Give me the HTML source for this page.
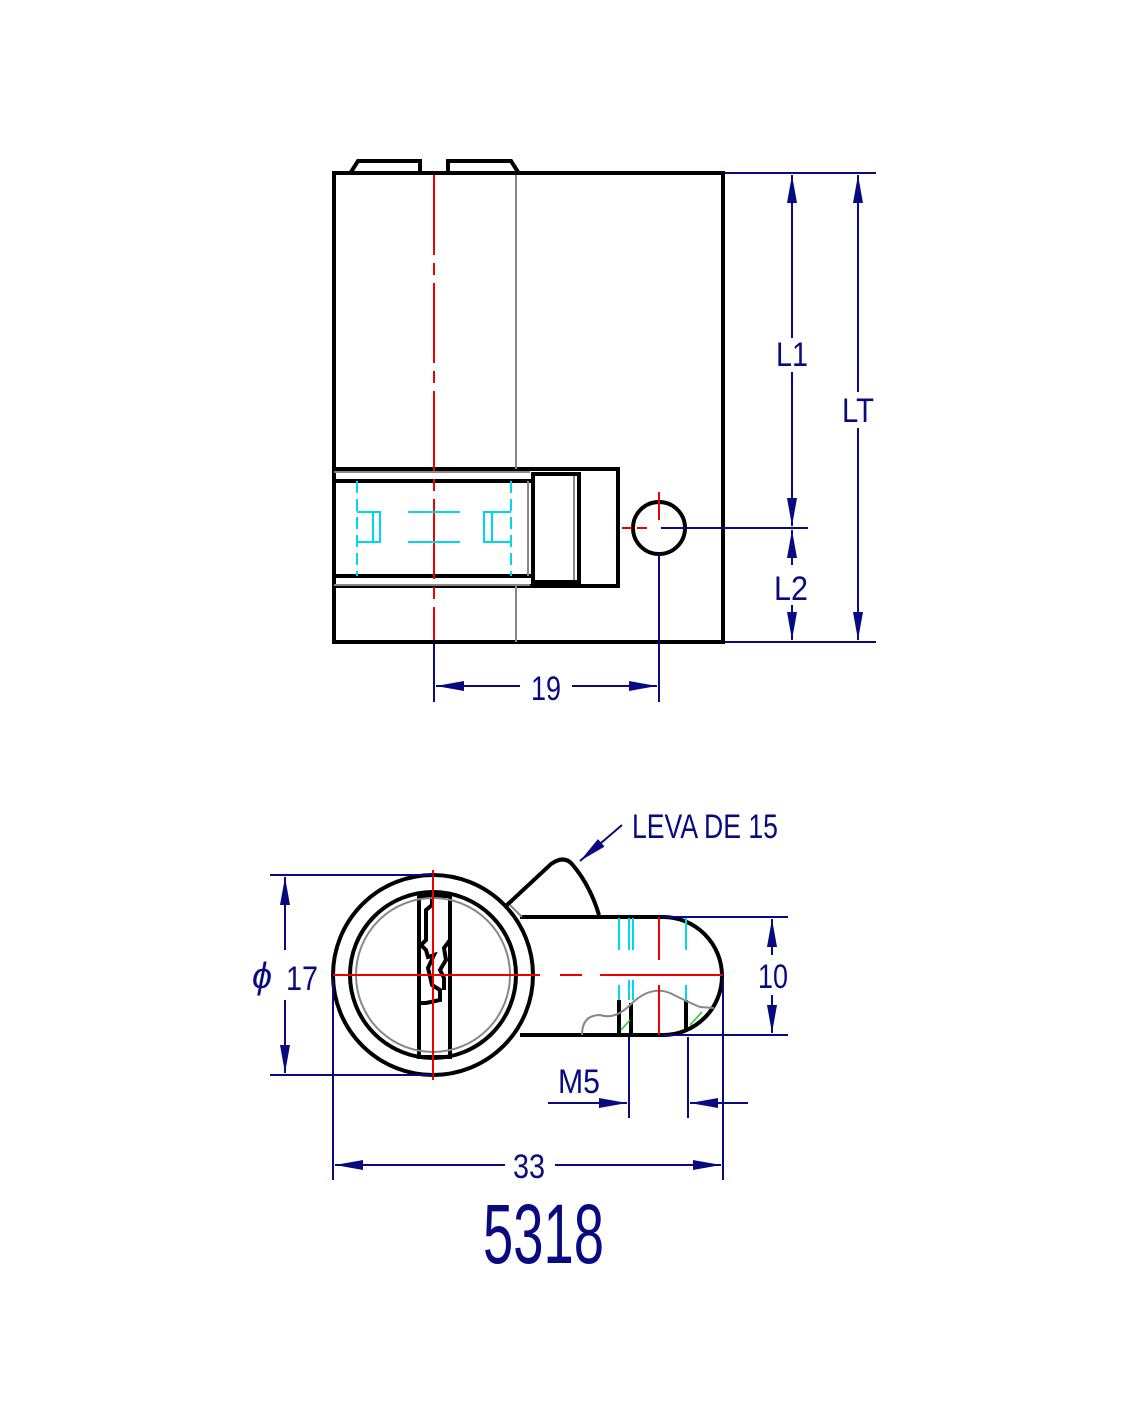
<!DOCTYPE html>
<html><head><meta charset="utf-8"><style>html,body{margin:0;padding:0;background:#fff}svg{display:block}</style></head>
<body>
<svg width="1134" height="1416" viewBox="0 0 1134 1416" xmlns="http://www.w3.org/2000/svg" font-family="Liberation Sans, sans-serif">
<defs>
<marker id="a" markerWidth="30" markerHeight="12" refX="28" refY="6" orient="auto" markerUnits="userSpaceOnUse"><path d="M0,1 L28,6 L0,11 Z" fill="#0a0a80"/></marker>
</defs>
<rect width="1134" height="1416" fill="#fff"/>
<!-- TOP VIEW -->
<g fill="none" stroke="#000" stroke-width="4">
<path d="M351,172 L358,161 L420,161 L420,172"/>
<path d="M448,172 L448,161 L511,161 L518,172"/>
<rect x="334" y="173" width="389" height="469"/>
<rect x="334" y="469" width="284" height="117" fill="#fff"/>
<line x1="334" y1="481" x2="533" y2="481"/>
<line x1="334" y1="576" x2="533" y2="576"/>
<rect x="533" y="474" width="46" height="108"/>
<circle cx="659" cy="528" r="26"/>
</g>
<g stroke="#888" stroke-width="2" fill="none">
<line x1="516" y1="175" x2="516" y2="469"/>
<line x1="516" y1="586" x2="516" y2="642"/>
<line x1="334" y1="472" x2="530" y2="472"/>
<line x1="334" y1="585" x2="530" y2="585"/>
<line x1="528" y1="481" x2="528" y2="576"/>
<line x1="574" y1="476" x2="574" y2="580"/>
</g>
<g stroke="#e00" stroke-width="2" fill="none">
<line x1="434" y1="175" x2="434" y2="640" stroke-dasharray="80,8,12,8"/>
<line x1="659" y1="492" x2="659" y2="520"/>
<line x1="622" y1="528" x2="652" y2="528" stroke-dasharray="10,5"/>
</g>
<g stroke="#00d8e8" stroke-width="2" fill="none">
<path d="M357,481 V576" stroke-dasharray="12,6"/>
<path d="M511,481 V576" stroke-dasharray="12,6"/>
<path d="M357,512 H380 V542 H357 M373,512 V542"/>
<path d="M511,512 H484 V542 H511 M492,512 V542"/>
<line x1="408" y1="512" x2="460" y2="512"/>
<line x1="408" y1="542" x2="460" y2="542"/>
</g>
<!-- top dims -->
<g stroke="#0a0a80" stroke-width="2" fill="none">
<line x1="725" y1="173" x2="876" y2="173"/>
<line x1="725" y1="642" x2="876" y2="642"/>
<line x1="661" y1="528" x2="808" y2="528"/>
<line x1="792" y1="338" x2="792" y2="175" marker-end="url(#a)"/>
<line x1="792" y1="372" x2="792" y2="526" marker-end="url(#a)"/>
<line x1="792" y1="565" x2="792" y2="530" marker-end="url(#a)"/>
<line x1="792" y1="605" x2="792" y2="640" marker-end="url(#a)"/>
<line x1="858" y1="392" x2="858" y2="175" marker-end="url(#a)"/>
<line x1="858" y1="428" x2="858" y2="640" marker-end="url(#a)"/>
<line x1="434" y1="644" x2="434" y2="702"/>
<line x1="659" y1="554" x2="659" y2="702"/>
<line x1="520" y1="686" x2="436" y2="686" marker-end="url(#a)"/>
<line x1="572" y1="686" x2="657" y2="686" marker-end="url(#a)"/>
</g>
<g fill="#0a0a80" font-size="34">
<text x="776" y="366" textLength="32" lengthAdjust="spacingAndGlyphs">L1</text>
<text x="842" y="422" textLength="32" lengthAdjust="spacingAndGlyphs">LT</text>
<text x="774" y="600" textLength="34" lengthAdjust="spacingAndGlyphs">L2</text>
<text x="531" y="700" textLength="30" lengthAdjust="spacingAndGlyphs">19</text>
</g>
<!-- BOTTOM VIEW -->
<g fill="none" stroke="#000" stroke-width="4">
<path d="M507,905 L551,864 Q564,855 572,864 Q590,885 599,915" />
<path d="M520,917 L663,917 A59,59 0 0 1 663,1035 L520,1035"/>
<circle cx="433" cy="975" r="100" fill="#fff"/>
<circle cx="433" cy="975" r="83"/>
<path d="M419,896 L419,1057 L450,1057 L450,896 Z"/>
<path d="M419,896 L432,896 L432,905 L426,910 L426,940 L421,945 L426,950 L428,957 L434,955 L428,968 L432,985 L440,990 L440,1000 L426,1003 L419,1003"/>
<path d="M450,940 L444,948 L446,960 L440,970 L444,978 L444,990"/>
<line x1="619" y1="1000" x2="619" y2="1035"/>
<line x1="631" y1="1003" x2="631" y2="1035"/>
<line x1="686" y1="1000" x2="686" y2="1030"/>
</g>
<g fill="none" stroke="#888" stroke-width="2">
<circle cx="433" cy="975" r="77"/>
<path d="M510,905 L522,917"/>
<path d="M582,1035 Q582,1015 600,1015 Q615,1020 630,1005 Q650,985 670,993 Q690,1003 700,1007 L714,1008"/>
</g>
<g stroke="#e00" stroke-width="2" fill="none">
<line x1="433" y1="870" x2="433" y2="1080"/>
<line x1="333" y1="975" x2="540" y2="975"/>
<line x1="560" y1="975" x2="582" y2="975"/>
<line x1="600" y1="975" x2="723" y2="975"/>
<line x1="659" y1="917" x2="659" y2="960"/>
<line x1="659" y1="985" x2="659" y2="1035"/>
</g>
<g stroke="#00d8e8" stroke-width="2" fill="none">
<line x1="619" y1="918" x2="619" y2="950"/><line x1="629" y1="918" x2="629" y2="950"/><line x1="633" y1="918" x2="633" y2="950"/>
<line x1="686" y1="918" x2="686" y2="950"/>
<line x1="619" y1="985" x2="619" y2="1000"/><line x1="629" y1="980" x2="629" y2="1000"/><line x1="633" y1="980" x2="633" y2="1000"/>
<line x1="686" y1="985" x2="686" y2="1000"/>
</g>
<g stroke="#2c2" stroke-width="1.5"><line x1="621" y1="1030" x2="630" y2="1020"/><line x1="690" y1="1025" x2="702" y2="1012"/></g>
<!-- bottom dims -->
<g stroke="#0a0a80" stroke-width="2" fill="none">
<line x1="270" y1="875" x2="433" y2="875"/>
<line x1="270" y1="1075" x2="433" y2="1075"/>
<line x1="285" y1="950" x2="285" y2="877" marker-end="url(#a)"/>
<line x1="285" y1="1000" x2="285" y2="1073" marker-end="url(#a)"/>
<line x1="663" y1="917" x2="788" y2="917"/>
<line x1="663" y1="1035" x2="788" y2="1035"/>
<line x1="772" y1="955" x2="772" y2="919" marker-end="url(#a)"/>
<line x1="772" y1="995" x2="772" y2="1033" marker-end="url(#a)"/>
<line x1="629" y1="1037" x2="629" y2="1118"/>
<line x1="688" y1="1037" x2="688" y2="1118"/>
<line x1="548" y1="1103" x2="627" y2="1103" marker-end="url(#a)"/>
<line x1="748" y1="1103" x2="690" y2="1103" marker-end="url(#a)"/>
<line x1="333" y1="980" x2="333" y2="1180"/>
<line x1="723" y1="980" x2="723" y2="1180"/>
<line x1="505" y1="1165" x2="335" y2="1165" marker-end="url(#a)"/>
<line x1="555" y1="1165" x2="721" y2="1165" marker-end="url(#a)"/>
<line x1="622" y1="825" x2="580" y2="861" marker-end="url(#a)"/>
</g>
<g fill="#0a0a80">
<text x="252" y="988" font-size="36" font-style="italic">ϕ</text>
<text x="286" y="990" font-size="34" textLength="32" lengthAdjust="spacingAndGlyphs">17</text>
<text x="758" y="988" font-size="34" textLength="30" lengthAdjust="spacingAndGlyphs">10</text>
<text x="558" y="1093" font-size="34" textLength="42" lengthAdjust="spacingAndGlyphs">M5</text>
<text x="513" y="1178" font-size="34" textLength="32" lengthAdjust="spacingAndGlyphs">33</text>
<text x="632" y="838" font-size="34" textLength="146" lengthAdjust="spacingAndGlyphs">LEVA DE 15</text>
<text x="483" y="1263" font-size="84" textLength="121" lengthAdjust="spacingAndGlyphs">5318</text>
</g>
</svg>
</body></html>
